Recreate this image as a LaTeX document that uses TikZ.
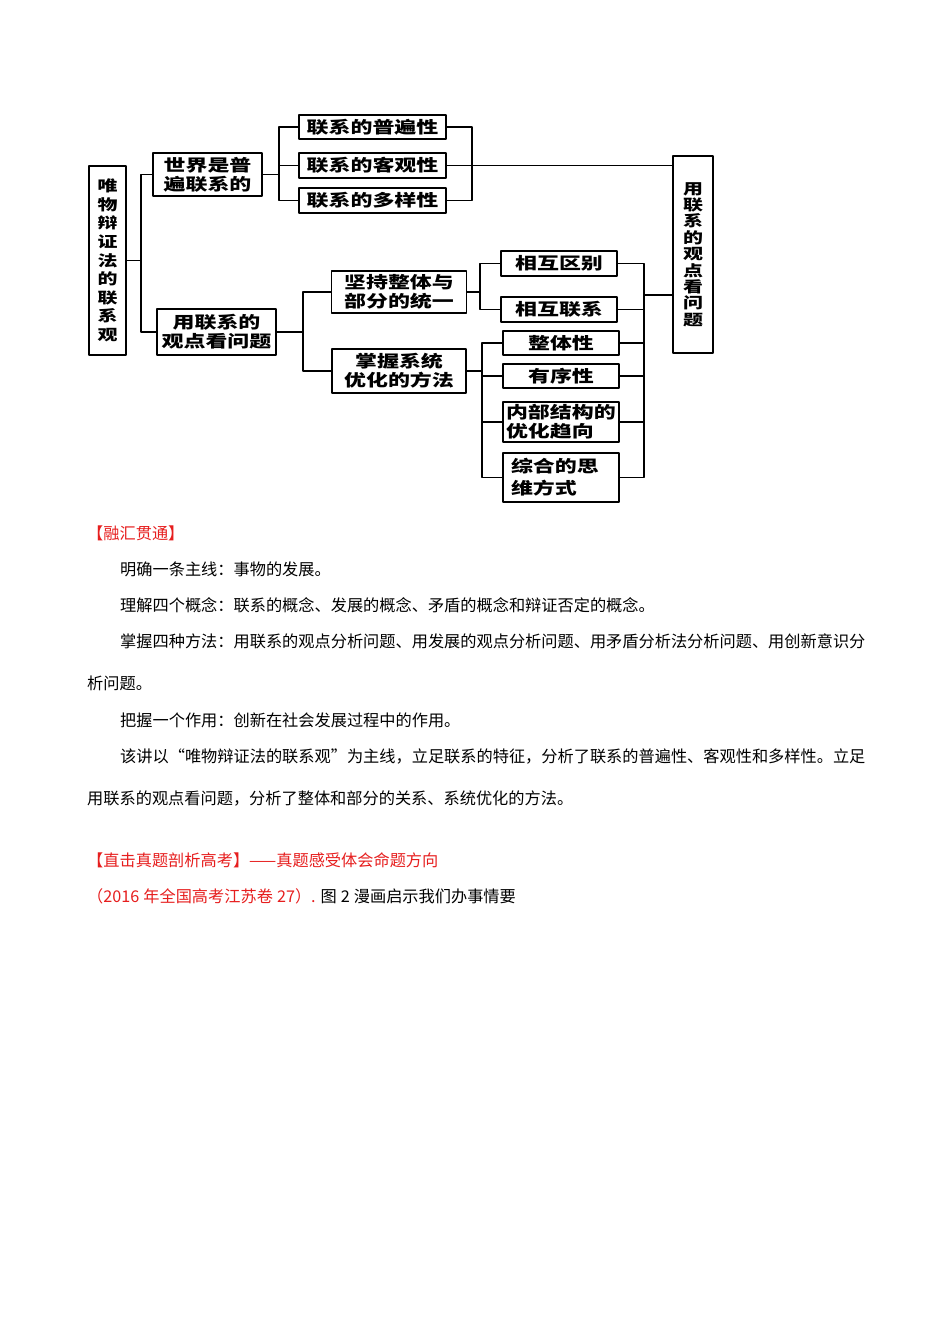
\documentclass[tikz,border=0pt]{standalone}
\usepackage{fontspec}
\usetikzlibrary{calc}
\newfontfamily\cjk{Noto Sans CJK SC}
\newfontfamily\boxfont[FakeStretch=1.33]{Noto Sans CJK SC}
\definecolor{hlred}{RGB}{230,30,30}

\begin{document}
\begin{tikzpicture}[x=1pt, y=-1pt, line cap=round, line join=round]
\tikzset{box/.style={draw, line width=1.8pt, inner sep=0pt, align=center,
    font=\boxfont\bfseries\fontsize{16.5}{19}\selectfont},
  wire/.style={line width=1.8pt},
  body/.style={anchor=base west, inner sep=0pt, font=\cjk\fontsize{16.2}{19}\selectfont}}
\useasboundingbox (0,0) rectangle (950,1344);

% boxes (px)
\node[box, minimum width=37, minimum height=189,
  font=\boxfont\bfseries\fontsize{15}{18.6}\selectfont] (root) at (107.5,260.5)
  {唯\\物\\辩\\证\\法\\的\\联\\系\\观};
\node[box, minimum width=109, minimum height=43] (world) at (207.5,174.5) {世界是普\\遍联系的};
\node[box, minimum width=147, minimum height=24] (p1) at (372.5,127) {联系的普遍性};
\node[box, minimum width=147, minimum height=25] (p2) at (372.5,165.5) {联系的客观性};
\node[box, minimum width=147, minimum height=25] (p3) at (372.5,200.5) {联系的多样性};
\node[box, minimum width=119, minimum height=46] (view) at (216.5,332) {用联系的\\观点看问题};
\node[box, minimum width=135, minimum height=42] (whole) at (399,292) {坚持整体与\\部分的统一};
\node[box, minimum width=134, minimum height=44] (optim) at (399,371) {掌握系统\\优化的方法};
\node[box, minimum width=116, minimum height=25] (diff) at (559,263.5) {相互区别};
\node[box, minimum width=116, minimum height=25] (link) at (559,309.5) {相互联系};
\node[box, minimum width=116, minimum height=24] (s1) at (561,343) {整体性};
\node[box, minimum width=116, minimum height=24] (s2) at (561,376) {有序性};
\node[box, minimum width=116, minimum height=40, text width=110, align=left] (s3) at (561,422)
  {内部结构的\\优化趋向};
\node[box, minimum width=116, minimum height=49, text width=100, align=left,
  font=\boxfont\bfseries\fontsize{16.5}{22}\selectfont] (s4) at (561,477.5) {综合的思\\维方式};
\node[box, minimum width=40, minimum height=197,
  font=\boxfont\bfseries\fontsize{15}{16.4}\selectfont] (goal) at (693,254.5)
  {用\\联\\系\\的\\观\\点\\看\\问\\题};

% bus points
\coordinate (b1) at (141,256);
\coordinate (b2) at (279,165);
\coordinate (b3) at (472,165);
\coordinate (b4) at (303,332);
\coordinate (b5) at (480,292);
\coordinate (b6) at (482,371);
\coordinate (b7) at (644,295);

% connectors
\draw[wire] (root.east) -- (b1 |- root.east);
\draw[wire] (world.west) -| (b1) |- (view.west);
\draw[wire] (world.east) -- (b2 |- world.east);
\draw[wire] (p1.west) -| (b2) |- (p3.west);
\draw[wire] (p2.west) -- (b2 |- p2.west);
\draw[wire] (p1.east) -| (b3) |- (p3.east);
\draw[wire] (p2.east) -- (goal.west |- p2.east);
\draw[wire] (view.east) -- (b4);
\draw[wire] (whole.west) -| (b4) |- (optim.west);
\draw[wire] (whole.east) -- (b5);
\draw[wire] (diff.west) -| (b5) |- (link.west);
\draw[wire] (optim.east) -- (b6);
\draw[wire] (s1.west) -| (b6) |- (s4.west);
\foreach \n in {s2,s3}
  \draw[wire] (\n.west) -- (b6 |- \n.west);
\draw[wire] (diff.east) -| (b7) |- (s4.east);
\foreach \n in {link,s1,s2,s3}
  \draw[wire] (\n.east) -- (b7 |- \n.east);
\draw[wire] (b7) -- (goal.west |- b7);

% text below
\node[body, text=hlred] (t1) at (87,539) {【融汇贯通】};
\node[body] (t2) at (120,575) {明确一条主线：事物的发展。};
\node[body] (t3) at (120,611) {理解四个概念：联系的概念、发展的概念、矛盾的概念和辩证否定的概念。};
\node[body] (t4) at (120,647) {掌握四种方法：用联系的观点分析问题、用发展的观点分析问题、用矛盾分析法分析问题、用创新意识分};
\node[body] (t5) at (87,689) {析问题。};
\node[body] (t6) at (120,726) {把握一个作用：创新在社会发展过程中的作用。};
\node[body] (t7) at (120,762) {该讲以“唯物辩证法的联系观”为主线，立足联系的特征，分析了联系的普遍性、客观性和多样性。立足};
\node[body] (t8) at (87,804) {用联系的观点看问题，分析了整体和部分的关系、系统优化的方法。};
\node[body, text=hlred] (t9) at (87,866) {【直击真题剖析高考】——真题感受体会命题方向};
\node[body] (t10) at (87,902) {\textcolor{hlred}{（2016\hspace{0.25em}年全国高考江苏卷\hspace{0.25em}27）.}\hspace{0.3em}图\hspace{0.25em}2\hspace{0.25em}漫画启示我们办事情要};
\end{tikzpicture}
\end{document}
